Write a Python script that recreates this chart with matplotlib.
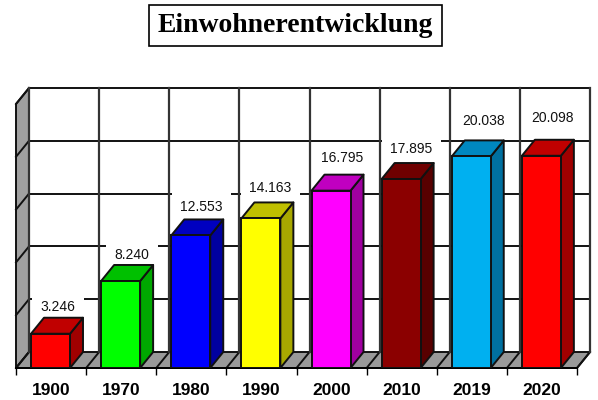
import matplotlib
matplotlib.use("Agg")
import matplotlib.pyplot as plt
from matplotlib.patches import Polygon

years = ["1900", "1970", "1980", "1990", "2000", "2010", "2019", "2020"]
values = [3246, 8240, 12553, 14163, 16795, 17895, 20038, 20098]
labels = ["3.246", "8.240", "12.553", "14.163", "16.795", "17.895", "20.038", "20.098"]
front_colors = ["#ff0000", "#00ff00", "#0000ff", "#ffff00", "#ff00ff", "#8b0000", "#00b0f0", "#ff0000"]
top_colors = ["#c00000", "#00c000", "#0000c0", "#c0c000", "#c000c0", "#6f0000", "#0088c0", "#c00000"]
side_colors = ["#a00000", "#00a800", "#0000a0", "#a8a800", "#a000a0", "#580000", "#0070a0", "#a00000"]
# label nudges in pixels, relative to the centre of the bar's back top edge
label_dx = [1, 5, 4, 3, 5, 3.5, 6, 5]
label_dy = [10.5, 9.5, 12.5, 14.5, 16.5, 14, 19.5, 21.5]

W, H = 598, 400
LEFT, RIGHT, BOTTOM, TOP = 16, 590, 368, 88
DX_PX, DY_PX = 13, 16
YMAX = 25000
STEP = 5000
n = len(years)
unit_x = (RIGHT - LEFT - DX_PX) / n
unit_y = (BOTTOM - TOP - DY_PX) / YMAX
dx = DX_PX / unit_x
dy = DY_PX / unit_y
bar_off, bar_w = 15 / unit_x, 39 / unit_x

plt.rcParams["font.family"] = ["Liberation Sans", "DejaVu Sans"]
fig = plt.figure(figsize=(W / 100, H / 100), dpi=100, facecolor="white")
ax = fig.add_axes([LEFT / W, 1 - BOTTOM / H, (RIGHT - LEFT) / W, (BOTTOM - TOP) / H])
ax.set_xlim(0, n + dx)
ax.set_ylim(0, YMAX + dy)
ax.patch.set_visible(False)
for s in ["top", "left", "right"]:
    ax.spines[s].set_visible(False)
ax.spines["bottom"].set_bounds(0, n)
ax.spines["bottom"].set_linewidth(1.4)
ax.set_yticks([])
ax.set_xticks(range(n + 1))
ax.set_xticklabels([])
ax.set_xticks([i + 0.5 for i in range(n)], labels=years, minor=True)
ax.tick_params(axis="x", which="major", length=5, width=1.0, color="black")
ax.tick_params(axis="x", which="minor", length=0, pad=11)
for t in ax.get_xticklabels(minor=True):
    t.set_fontsize(12.5)
    t.set_fontweight("bold")

EDGE = "#111111"
LW = 1.4
GREY = "#a0a0a0"
# side wall
ax.add_patch(Polygon([(0, 0), (dx, dy), (dx, YMAX + dy), (0, YMAX)], fc=GREY, ec=EDGE, lw=LW, zorder=1, clip_on=False))
# floor
ax.add_patch(Polygon([(0, 0), (dx, dy), (n + dx, dy), (n, 0)], fc="#999999", ec=EDGE, lw=LW, zorder=1, clip_on=False))
# horizontal grid with wall slants
for k in range(1, YMAX // STEP + 1):
    y = k * STEP
    ax.plot([dx, n + dx], [y + dy, y + dy], color="#111111", lw=LW, zorder=2, solid_capstyle="projecting", clip_on=False)
    ax.plot([0, dx], [y, y + dy], color="#111111", lw=LW, zorder=2, clip_on=False)
# vertical grid with floor slants stays above the label boxes
for i in range(n + 1):
    ax.plot([i + dx, i + dx], [dy, YMAX + dy], color="#333333", lw=LW + 0.2, zorder=3.5, clip_on=False)
    ax.plot([i, i + dx], [0, dy], color="#111111", lw=LW, zorder=2, clip_on=False)

# data labels hide the horizontal grid behind them
for i, (v, lab) in enumerate(zip(values, labels)):
    cx = i + bar_off + bar_w / 2 + dx / 2
    ax.annotate(lab, (cx, v + dy), xytext=(label_dx[i] * 0.72, label_dy[i] * 0.72),
                textcoords="offset points", ha="center", va="center", fontsize=10,
                color="#111111", zorder=3,
                bbox=dict(boxstyle="square,pad=0.6", fc="white", ec="none"))

# bars
for i, v in enumerate(values):
    x0 = i + bar_off
    x1 = x0 + bar_w
    ax.add_patch(Polygon([(x1, 0), (x1 + dx, dy), (x1 + dx, v + dy), (x1, v)],
                         fc=side_colors[i], ec=EDGE, lw=LW, zorder=4, joinstyle="round"))
    ax.add_patch(Polygon([(x0, v), (x0 + dx, v + dy), (x1 + dx, v + dy), (x1, v)],
                         fc=top_colors[i], ec=EDGE, lw=LW, zorder=4, joinstyle="round"))
    ax.bar(x0, v, width=bar_w, align="edge", color=front_colors[i], edgecolor=EDGE, linewidth=LW, zorder=5)

fig.text(295.5 / W, 1 - 25.5 / H, "Einwohnerentwicklung", family="Liberation Serif", fontweight="bold",
         fontsize=20, ha="center", va="center", color="black",
         bbox=dict(boxstyle="square,pad=0.3", fc="white", ec="black", lw=1.2))
fig.savefig("out.png", dpi=100)
